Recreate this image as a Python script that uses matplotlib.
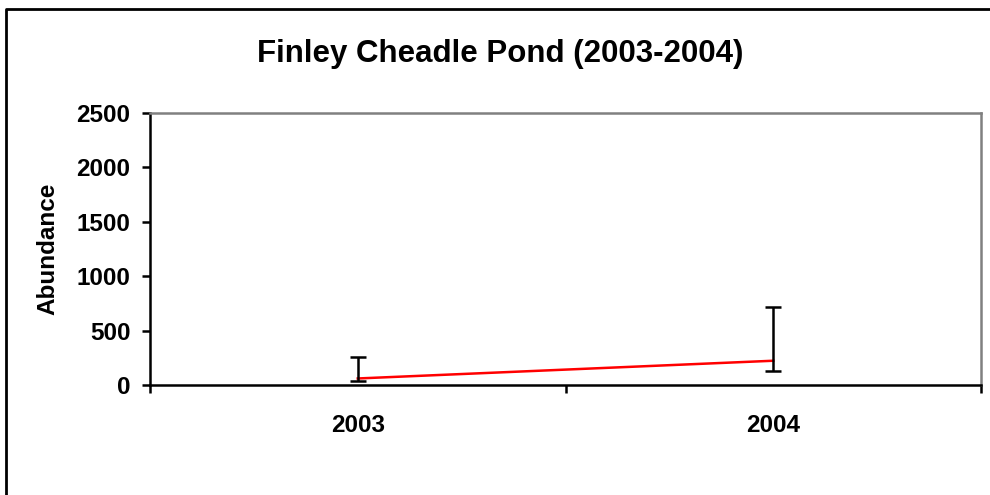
import matplotlib.pyplot as plt
from matplotlib.lines import Line2D

years = ['2003', '2004']
abundance = [60, 223]
err_low = [40, 131]
err_high = [260, 720]
y_ticks = [0, 500, 1000, 1500, 2000, 2500]

plt.rcParams['font.family'] = ['Liberation Sans', 'DejaVu Sans']
plt.rcParams['font.weight'] = 'bold'

fig = plt.figure(figsize=(9.9, 4.95), dpi=100)
ax = fig.add_axes([150 / 990, 110 / 495, 831 / 990, 272 / 495])

x = list(range(len(years)))
ax.plot(x, abundance, color='red', lw=1.8, zorder=3)
yerr = [[a - l for a, l in zip(abundance, err_low)],
        [h - a for a, h in zip(abundance, err_high)]]
ax.errorbar(x, abundance, yerr=yerr, fmt='none', ecolor='black',
            elinewidth=1.8, capsize=5.8, capthick=1.8, zorder=4)

ax.set_xlim(-0.5, 1.5)
ax.set_ylim(0, 2500)
ax.set_yticks(y_ticks)
ax.set_xticks(x)
ax.set_xticklabels(years)
ax.set_xticks([-0.5, 0.5, 1.5], minor=True)
ax.tick_params(axis='x', which='major', length=0, pad=21, labelsize=17.5)
ax.tick_params(axis='x', which='minor', length=6, width=1.8, direction='out')
ax.tick_params(axis='y', length=6, width=1.8, pad=8, labelsize=17.5)

for side in ['left', 'bottom']:
    ax.spines[side].set_color('black')
    ax.spines[side].set_linewidth(1.8)
for side in ['top', 'right']:
    ax.spines[side].set_color('#808080')
    ax.spines[side].set_linewidth(1.8)

ax.set_ylabel('Abundance', fontsize=17.5, fontweight='bold', labelpad=12)
fig.text(0.505, 1 - 54 / 495, 'Finley Cheadle Pond (2003-2004)',
         ha='center', va='center', fontsize=22.5, fontweight='bold')

# outer chart border (only left and top edges visible)
fig.add_artist(Line2D([5.5 / 990, 5.5 / 990, 1.0], [0.0, 1 - 8.5 / 495, 1 - 8.5 / 495],
                      transform=fig.transFigure, color='black', lw=2.0))

fig.savefig('out.png', dpi=100)
